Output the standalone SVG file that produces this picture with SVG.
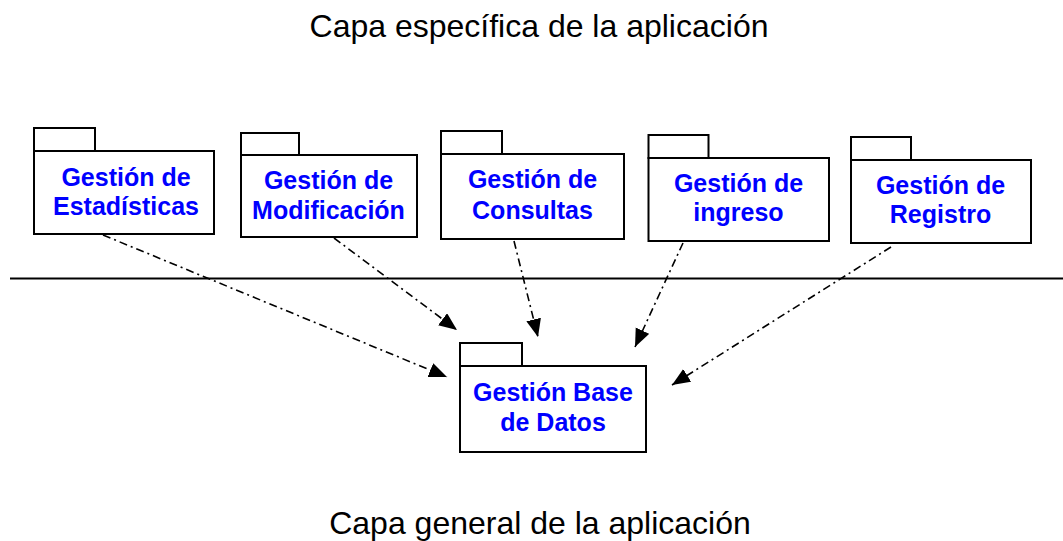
<svg xmlns="http://www.w3.org/2000/svg" width="1063" height="541" viewBox="0 0 1063 541">
<style>
.box{fill:#fff;stroke:#000;stroke-width:2}
.lbl{font-family:"Liberation Sans",Arial,sans-serif;font-weight:bold;font-size:25px;fill:#0000ff;text-anchor:middle}
.title{font-family:"Liberation Sans",Arial,sans-serif;font-size:32px;fill:#000;text-anchor:middle}
.dep{fill:none;stroke:#000;stroke-width:1.6;stroke-dasharray:8 4 2 4;marker-end:url(#ah)}
</style>
<defs>
<marker id="ah" markerUnits="userSpaceOnUse" markerWidth="20" markerHeight="16" refX="18" refY="7.5" orient="auto">
<path d="M0,0 L18,7.5 L0,15 z" fill="#000"/>
</marker>
</defs>
<rect width="1063" height="541" fill="#fff"/>
<text class="title" x="539" y="37">Capa específica de la aplicación</text>
<text class="title" x="540" y="534">Capa general de la aplicación</text>
<line x1="10" y1="278.5" x2="1063" y2="278.5" stroke="#000" stroke-width="2"/>
<g id="connectors">
<line class="dep" x1="103" y1="235" x2="447" y2="377"/>
<line class="dep" x1="334" y1="238" x2="457" y2="330"/>
<line class="dep" x1="514" y1="241" x2="538" y2="337"/>
<line class="dep" x1="683" y1="243" x2="635" y2="347"/>
<line class="dep" x1="891" y1="247" x2="672" y2="385"/>
</g>
<g id="n1">
<rect class="box" x="34" y="128" width="61" height="23"/>
<rect class="box" x="34" y="151" width="180" height="83"/>
<text class="lbl" x="126" y="186">Gestión de</text>
<text class="lbl" x="126" y="214.5">Estadísticas</text>
</g>
<g id="n2">
<rect class="box" x="241" y="133" width="58" height="22"/>
<rect class="box" x="241" y="155" width="176" height="82"/>
<text class="lbl" x="328.5" y="189">Gestión de</text>
<text class="lbl" x="328.5" y="219">Modificación</text>
</g>
<g id="n3">
<rect class="box" x="441" y="131" width="61" height="23"/>
<rect class="box" x="441" y="154" width="183" height="85"/>
<text class="lbl" x="532.5" y="188">Gestión de</text>
<text class="lbl" x="532.5" y="218.5">Consultas</text>
</g>
<g id="n4">
<rect class="box" x="648.5" y="135" width="60" height="23"/>
<rect class="box" x="648.5" y="158" width="180.5" height="83"/>
<text class="lbl" x="738.5" y="191.5">Gestión de</text>
<text class="lbl" x="738.5" y="221">ingreso</text>
</g>
<g id="n5">
<rect class="box" x="851" y="137" width="60" height="23"/>
<rect class="box" x="851" y="160" width="180" height="83"/>
<text class="lbl" x="940.5" y="193.5">Gestión de</text>
<text class="lbl" x="940.5" y="223">Registro</text>
</g>
<g id="n6">
<rect class="box" x="460" y="343" width="62" height="23"/>
<rect class="box" x="460" y="366" width="186" height="86"/>
<text class="lbl" x="553" y="401">Gestión Base</text>
<text class="lbl" x="553" y="431">de Datos</text>
</g>
</svg>
